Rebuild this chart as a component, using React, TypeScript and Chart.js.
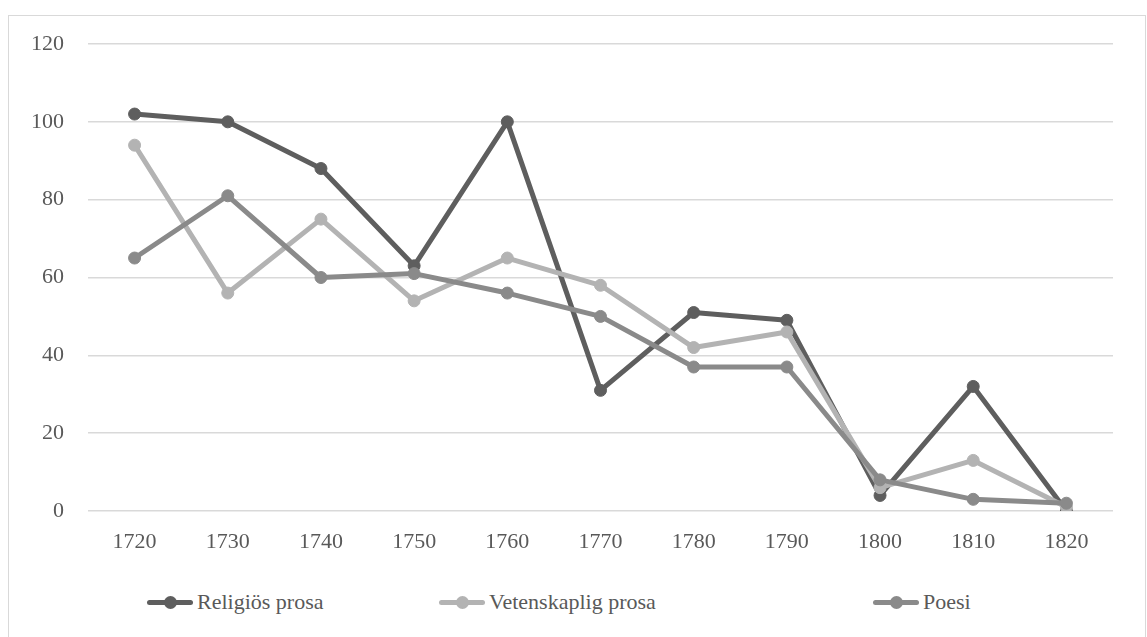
import React, { useEffect, useRef } from "react";
import { Chart, registerables } from "chart.js";

Chart.register(...registerables);

const categories = ["1720", "1730", "1740", "1750", "1760", "1770", "1780", "1790", "1800", "1810", "1820"];
const religiosProsa = [102, 100, 88, 63, 100, 31, 51, 49, 4, 32, 0];
const vetenskapligProsa = [94, 56, 75, 54, 65, 58, 42, 46, 6, 13, 1];
const poesi = [65, 81, 60, 61, 56, 50, 37, 37, 8, 3, 2];
const seriesNames = ["Religiös prosa", "Vetenskaplig prosa", "Poesi"];
const seriesColors = ["#5e5e5e", "#b3b3b3", "#8a8a8a"];

const FONT = "'Liberation Serif', 'Times New Roman', serif";
const TEXT = "#595959";

function LegendItem({ color, label, left }: { color: string; label: string; left: number }) {
  return (
    <div style={{ position: "absolute", left, top: 572, height: 28, display: "flex", alignItems: "center" }}>
      <div style={{ position: "relative", width: 46, height: 28 }}>
        <div style={{ position: "absolute", left: 0, top: 11.5, width: 46, height: 5, borderRadius: 3, background: color }} />
        <div style={{ position: "absolute", left: 16.5, top: 7.5, width: 13, height: 13, borderRadius: "50%", background: color }} />
      </div>
      <span style={{ marginLeft: 4, fontFamily: FONT, fontSize: 22, color: TEXT, lineHeight: "28px", whiteSpace: "nowrap" }}>{label}</span>
    </div>
  );
}

export default function App() {
  const ref = useRef<HTMLCanvasElement | null>(null);

  useEffect(() => {
    if (!ref.current) return;
    const data = [religiosProsa, vetenskapligProsa, poesi];
    const chart = new Chart(ref.current, {
      type: "line",
      data: {
        labels: categories,
        datasets: data.map((d, i) => ({
          label: seriesNames[i],
          data: d,
          borderColor: seriesColors[i],
          backgroundColor: seriesColors[i],
          pointBackgroundColor: seriesColors[i],
          pointBorderColor: seriesColors[i],
          borderWidth: 5,
          pointRadius: 6,
          pointBorderWidth: 1,
          tension: 0,
          order: 2 - i,
          borderCapStyle: "round" as const,
          borderJoinStyle: "round" as const,
        })),
      },
      options: {
        animation: false,
        responsive: false,
        devicePixelRatio: 1,
        layout: { padding: { top: 28, right: 33, left: 0, bottom: 0 } },
        plugins: { legend: { display: false }, tooltip: { enabled: false } },
        scales: {
          x: {
            type: "category",
            offset: true,
            grid: { display: false, drawTicks: false },
            border: { display: false },
            ticks: { color: TEXT, font: { family: FONT, size: 22 }, padding: 18, maxRotation: 0 },
            afterFit: (s: any) => { s.height = 59; },
          },
          y: {
            min: 0,
            max: 120,
            grid: { color: "#d9d9d9", lineWidth: 1.5, drawTicks: false },
            border: { display: false },
            ticks: { stepSize: 20, color: TEXT, font: { family: FONT, size: 22 }, padding: 24 },
            afterFit: (s: any) => { s.width = 79; s.paddingTop = 0; s.paddingBottom = 0; },
          },
        },
      },
    });
    return () => chart.destroy();
  }, []);

  return (
    <div style={{ position: "fixed", left: 8, top: 15, width: 1138, height: 640, border: "1px solid #d9d9d9", boxSizing: "border-box", background: "#fff" }}>
      <canvas ref={ref} width={1137} height={554} style={{ position: "absolute", left: 0, top: 0, width: 1137, height: 554 }} />
      <LegendItem color={seriesColors[0]} label={seriesNames[0]} left={138} />
      <LegendItem color={seriesColors[1]} label={seriesNames[1]} left={430} />
      <LegendItem color={seriesColors[2]} label={seriesNames[2]} left={864} />
    </div>
  );
}
